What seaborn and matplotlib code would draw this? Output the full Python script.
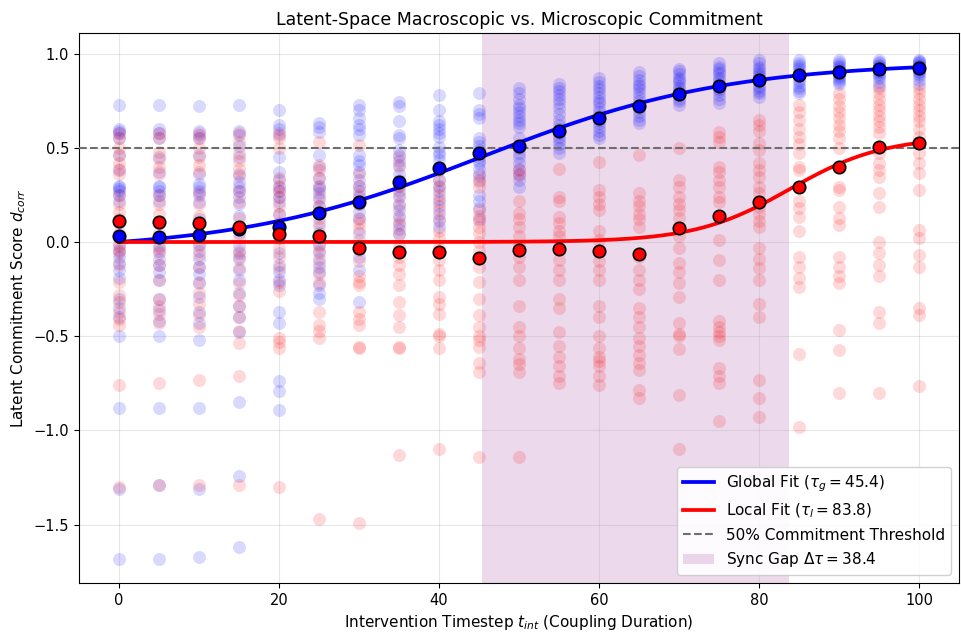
import numpy as np
import pandas as pd
import matplotlib
matplotlib.use("Agg")
import matplotlib.pyplot as plt
import seaborn as sns

# Intervention timesteps
timesteps = [0, 5, 10, 15, 20, 25, 30, 35, 40, 45, 50, 55, 60, 65, 70, 75, 80, 85, 90, 95, 100]

# Per-run global (macroscopic) commitment scores at each timestep
global_scores = [
    [0.73, 0.60, 0.59, 0.58, 0.55, 0.46, 0.38, 0.30, 0.29, 0.28, 0.27, 0.25, 0.22, 0.10, -0.02, -0.05, -0.08, -0.11, -0.15, -0.19, -0.30, -0.35, -0.40, -0.50, -0.88, -1.31, -1.68],
    [0.73, 0.60, 0.58, 0.55, 0.45, 0.37, 0.30, 0.29, 0.27, 0.25, 0.22, 0.10, -0.02, -0.05, -0.09, -0.12, -0.16, -0.20, -0.30, -0.36, -0.42, -0.50, -0.88, -1.29, -1.68],
    [0.72, 0.59, 0.57, 0.55, 0.46, 0.36, 0.31, 0.29, 0.27, 0.25, 0.21, 0.12, -0.01, -0.05, -0.09, -0.13, -0.17, -0.22, -0.29, -0.37, -0.43, -0.52, -0.88, -1.31, -1.67],
    [0.73, 0.59, 0.57, 0.51, 0.45, 0.36, 0.32, 0.29, 0.27, 0.24, 0.20, 0.14, 0.05, -0.02, -0.06, -0.09, -0.15, -0.20, -0.27, -0.34, -0.40, -0.48, -0.85, -1.24, -1.62],
    [0.70, 0.62, 0.60, 0.57, 0.45, 0.37, 0.33, 0.29, 0.27, 0.24, 0.21, 0.15, 0.08, 0.02, -0.06, -0.12, -0.16, -0.20, -0.23, -0.37, -0.43, -0.74, -0.79, -0.89],
    [0.63, 0.61, 0.585, 0.46, 0.40, 0.34, 0.30, 0.28, 0.26, 0.23, 0.19, 0.16, 0.10, 0.05, -0.01, -0.05, -0.09, -0.13, -0.16, -0.23, -0.27, -0.30],
    [0.73, 0.70, 0.66, 0.62, 0.60, 0.57, 0.46, 0.43, 0.41, 0.37, 0.33, 0.30, 0.27, 0.24, 0.20, 0.16, 0.12, 0.05, -0.02, -0.08, -0.15, -0.32],
    [0.745, 0.72, 0.64, 0.57, 0.55, 0.49, 0.46, 0.43, 0.41, 0.36, 0.33, 0.30, 0.27, 0.24, 0.20, 0.17, 0.14, 0.10, 0.07, 0.04],
    [0.78, 0.70, 0.64, 0.62, 0.60, 0.58, 0.56, 0.505, 0.48, 0.46, 0.435, 0.38, 0.33, 0.30, 0.27, 0.23, 0.19, 0.15, 0.11, 0.08],
    [0.79, 0.70, 0.68, 0.66, 0.55, 0.53, 0.51, 0.49, 0.47, 0.45, 0.43, 0.42, 0.39, 0.36, 0.33, 0.25, 0.22, 0.18, 0.12],
    [0.82, 0.79, 0.76, 0.73, 0.71, 0.69, 0.67, 0.65, 0.63, 0.61, 0.55, 0.50, 0.47, 0.45, 0.42, 0.39, 0.36, 0.33, 0.29],
    [0.84, 0.82, 0.80, 0.78, 0.76, 0.74, 0.71, 0.68, 0.65, 0.62, 0.60, 0.58, 0.56, 0.54, 0.52, 0.50, 0.47],
    [0.87, 0.85, 0.83, 0.81, 0.79, 0.77, 0.75, 0.74, 0.71, 0.69, 0.67, 0.65, 0.63, 0.61, 0.59, 0.57, 0.55],
    [0.90, 0.88, 0.86, 0.84, 0.83, 0.81, 0.79, 0.77, 0.75, 0.73, 0.71, 0.69, 0.67, 0.65, 0.63],
    [0.92, 0.91, 0.89, 0.87, 0.86, 0.85, 0.83, 0.82, 0.80, 0.78, 0.76, 0.75, 0.73],
    [0.95, 0.93, 0.92, 0.90, 0.89, 0.87, 0.86, 0.84, 0.83, 0.81, 0.80, 0.78, 0.76, 0.74],
    [0.965, 0.95, 0.93, 0.92, 0.90, 0.89, 0.88, 0.86, 0.85, 0.83, 0.82, 0.80, 0.79, 0.77],
    [0.965, 0.95, 0.94, 0.93, 0.92, 0.90, 0.89, 0.88, 0.86, 0.85, 0.83, 0.82, 0.80, 0.79],
    [0.965, 0.955, 0.945, 0.935, 0.93, 0.92, 0.91, 0.90, 0.89, 0.88, 0.87, 0.86, 0.85, 0.84],
    [0.965, 0.955, 0.95, 0.94, 0.935, 0.93, 0.92, 0.91, 0.90, 0.89, 0.88, 0.87, 0.85, 0.83],
    [0.965, 0.96, 0.955, 0.95, 0.94, 0.935, 0.93, 0.92, 0.91, 0.90, 0.89, 0.88, 0.86, 0.84],
]

# Per-run local (microscopic) commitment scores at each timestep
local_scores = [
    [0.58, 0.55, 0.50, 0.46, 0.42, 0.39, 0.36, 0.25, 0.20, 0.16, 0.12, 0.05, -0.01, -0.04, -0.06, -0.12, -0.21, -0.28, -0.32, -0.37, -0.41, -0.44, -0.76, -1.30],
    [0.58, 0.55, 0.48, 0.44, 0.40, 0.36, 0.25, 0.20, 0.15, 0.10, 0.05, -0.03, -0.06, -0.12, -0.20, -0.30, -0.34, -0.38, -0.43, -0.75, -1.29],
    [0.58, 0.55, 0.50, 0.45, 0.41, 0.37, 0.26, 0.20, 0.14, 0.09, 0.03, -0.02, -0.07, -0.13, -0.21, -0.27, -0.33, -0.39, -0.45, -0.73, -1.29],
    [0.58, 0.53, 0.47, 0.43, 0.39, 0.35, 0.27, 0.21, 0.13, 0.08, 0.02, -0.05, -0.08, -0.14, -0.22, -0.28, -0.34, -0.40, -0.47, -0.535, -0.71, -1.29],
    [0.58, 0.55, 0.50, 0.34, 0.30, 0.27, 0.24, 0.19, 0.15, 0.10, 0.04, -0.03, -0.08, -0.14, -0.21, -0.26, -0.51, -0.53, -0.56, -1.30],
    [0.53, 0.41, 0.38, 0.34, 0.29, 0.24, 0.19, 0.13, 0.08, 0.03, -0.02, -0.06, -0.11, -0.17, -0.22, -0.37, -0.44, -0.47, -0.51, -1.47],
    [0.515, 0.36, 0.30, 0.25, 0.20, 0.13, 0.10, 0.07, 0.01, -0.04, -0.10, -0.18, -0.21, -0.23, -0.37, -0.41, -0.44, -0.555, -0.565, -1.49],
    [0.45, 0.40, 0.30, 0.25, 0.19, 0.13, 0.09, 0.04, -0.02, -0.08, -0.12, -0.17, -0.23, -0.32, -0.39, -0.45, -0.555, -0.56, -1.13],
    [0.33, 0.29, 0.25, 0.21, 0.17, 0.12, 0.06, 0.02, -0.03, -0.095, -0.15, -0.20, -0.29, -0.33, -0.38, -0.49, -0.50, -0.565, -1.10],
    [0.35, 0.32, 0.29, 0.17, 0.14, 0.11, 0.08, 0.05, 0.0, -0.05, -0.13, -0.21, -0.30, -0.39, -0.45, -0.50, -0.52, -0.555, -0.64, -0.69, -1.14],
    [0.38, 0.355, 0.22, 0.155, 0.12, 0.08, 0.03, -0.02, -0.08, -0.13, -0.20, -0.34, -0.45, -0.50, -0.56, -0.62, -0.65, -0.69, -1.14],
    [0.39, 0.24, 0.22, 0.135, 0.10, 0.06, 0.03, -0.03, -0.095, -0.15, -0.20, -0.30, -0.35, -0.475, -0.55, -0.61, -0.66, -0.71, -0.75],
    [0.425, 0.275, 0.24, 0.20, 0.17, 0.06, 0.01, -0.05, -0.10, -0.15, -0.20, -0.34, -0.40, -0.50, -0.565, -0.61, -0.63, -0.66, -0.71, -0.76],
    [0.46, 0.26, 0.22, 0.19, 0.15, 0.12, 0.08, -0.08, -0.15, -0.20, -0.25, -0.35, -0.40, -0.45, -0.51, -0.55, -0.60, -0.64, -0.68, -0.785, -0.83],
    [0.50, 0.33, 0.29, 0.24, 0.20, 0.17, 0.13, 0.03, -0.03, -0.11, -0.16, -0.22, -0.29, -0.43, -0.49, -0.50, -0.57, -0.81, -1.10],
    [0.585, 0.56, 0.53, 0.40, 0.37, 0.33, 0.29, 0.24, 0.21, 0.01, -0.095, -0.20, -0.42, -0.45, -0.48, -0.50, -0.52, -0.67, -0.71, -0.75, -0.95],
    [0.65, 0.62, 0.59, 0.525, 0.49, 0.42, 0.38, 0.345, 0.29, 0.26, 0.185, 0.15, 0.11, 0.08, -0.03, -0.09, -0.14, -0.20, -0.33, -0.40, -0.73, -0.83, -0.93],
    [0.73, 0.69, 0.65, 0.60, 0.56, 0.52, 0.47, 0.40, 0.38, 0.22, 0.18, 0.135, 0.06, -0.08, -0.13, -0.19, -0.24, -0.595, -0.98],
    [0.79, 0.76, 0.72, 0.69, 0.66, 0.62, 0.59, 0.55, 0.50, 0.29, 0.275, 0.185, 0.13, 0.09, -0.08, -0.13, -0.18, -0.22, -0.465, -0.575, -0.80],
    [0.82, 0.79, 0.76, 0.73, 0.70, 0.67, 0.64, 0.61, 0.58, 0.47, 0.42, 0.38, 0.345, 0.26, 0.185, 0.0, -0.06, -0.12, -0.18, -0.37, -0.43, -0.80],
    [0.82, 0.79, 0.76, 0.73, 0.70, 0.67, 0.64, 0.60, 0.56, 0.47, 0.42, 0.365, 0.275, 0.065, 0.02, -0.07, -0.13, -0.35, -0.39, -0.765],
]

# Mean score per timestep
global_mean = [0.03, 0.025, 0.035, 0.07, 0.08, 0.155, 0.215, 0.32, 0.395, 0.475, 0.51, 0.59, 0.66, 0.72, 0.785, 0.83, 0.86, 0.885, 0.905, 0.92, 0.925]
local_mean = [0.11, 0.105, 0.10, 0.08, 0.04, 0.03, -0.03, -0.055, -0.055, -0.085, -0.045, -0.035, -0.05, -0.065, 0.075, 0.14, 0.215, 0.29, 0.40, 0.505, 0.525]

# Sigmoid fit parameters: (baseline, amplitude, steepness, midpoint)
tau_g = 45.4
tau_l = 83.8
global_fit = (-0.05, 1.006, 0.065, tau_g)
local_fit = (0.0, 0.56, 0.17, tau_l)
threshold = 0.5


def sigmoid(t, base, amp, k, mid):
    return base + amp / (1.0 + np.exp(-k * (t - mid)))


def long_frame(scores):
    rows = [(t, v) for t, col in zip(timesteps, scores) for v in col]
    return pd.DataFrame(rows, columns=["t", "score"])


plt.rcParams["font.family"] = ["DejaVu Sans"]
fig, ax = plt.subplots(figsize=(9.61, 6.33), dpi=100)
fig.subplots_adjust(left=0.082, right=0.998, top=0.948, bottom=0.079)

# Synchronisation gap between the two commitment times
ax.axvspan(tau_g, tau_l, color="purple", alpha=0.15, lw=0,
           label=rf"Sync Gap $\Delta\tau = {tau_l - tau_g:.1f}$", zorder=0)

# Individual runs
sns.scatterplot(data=long_frame(global_scores), x="t", y="score", ax=ax,
                color="blue", alpha=0.15, s=88, linewidth=0, zorder=2, legend=False)
sns.scatterplot(data=long_frame(local_scores), x="t", y="score", ax=ax,
                color="red", alpha=0.15, s=88, linewidth=0, zorder=2, legend=False)

# Sigmoid fits
t_fine = np.linspace(0, 100, 400)
fits = pd.DataFrame({
    "t": t_fine,
    "global": sigmoid(t_fine, *global_fit),
    "local": sigmoid(t_fine, *local_fit),
})
sns.lineplot(data=fits, x="t", y="global", ax=ax, color="blue", lw=2.7,
             label=rf"Global Fit ($\tau_g = {tau_g}$)", zorder=4)
sns.lineplot(data=fits, x="t", y="local", ax=ax, color="red", lw=2.7,
             label=rf"Local Fit ($\tau_l = {tau_l}$)", zorder=4)

ax.axhline(threshold, color="#6e6e6e", ls="--", lw=1.5,
           label="50% Commitment Threshold", zorder=3)

# Mean markers
means = pd.DataFrame({"t": timesteps, "g": global_mean, "l": local_mean})
sns.scatterplot(data=means, x="t", y="g", ax=ax, color="blue", s=80,
                edgecolor="black", linewidth=1.2, zorder=5, legend=False)
sns.scatterplot(data=means, x="t", y="l", ax=ax, color="red", s=80,
                edgecolor="black", linewidth=1.2, zorder=5, legend=False)

ax.set_xlim(-5, 105)
ax.set_ylim(-1.81, 1.11)
ax.set_yticks([-1.5, -1.0, -0.5, 0.0, 0.5, 1.0])
ax.grid(True, alpha=0.3)
ax.set_axisbelow(True)

ax.set_title("Latent-Space Macroscopic vs. Microscopic Commitment", fontsize=12.5)
ax.set_xlabel(r"Intervention Timestep $t_{int}$ (Coupling Duration)", fontsize=11)
ax.set_ylabel(r"Latent Commitment Score $d_{corr}$", fontsize=11)
ax.tick_params(labelsize=10.5)

handles, labels = ax.get_legend_handles_labels()
order = [labels.index(l) for l in [rf"Global Fit ($\tau_g = {tau_g}$)",
                                    rf"Local Fit ($\tau_l = {tau_l}$)",
                                    "50% Commitment Threshold",
                                    rf"Sync Gap $\Delta\tau = {tau_l - tau_g:.1f}$"]]
ax.legend([handles[i] for i in order], [labels[i] for i in order],
          loc="lower right", fontsize=11, framealpha=0.9)

fig.savefig("out.png", dpi=100)
